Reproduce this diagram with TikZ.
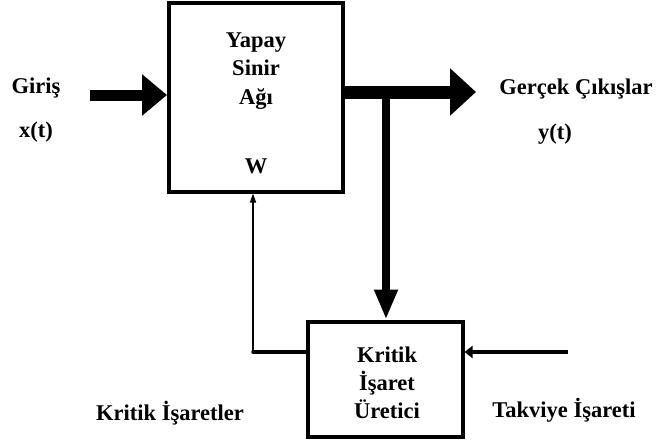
\documentclass[tikz,border=0pt]{standalone}
\usepackage{fontspec}
\setmainfont{Liberation Serif}
\usetikzlibrary{arrows.meta}
\begin{document}
\begin{tikzpicture}[x=1pt,y=-1pt,
  block/.style={draw,line width=4pt,inner sep=0pt},
  lbl/.style={font=\fontsize{22.5}{24}\selectfont\bfseries,inner sep=0pt,anchor=base},
  bigarrow/.style={line width=11pt,-{Triangle[length=25pt,width=40pt]}},
  outarrow/.style={line width=13pt,-{Triangle[length=26pt,width=46pt]}},
  downarrow/.style={line width=8pt,-{Triangle[length=30pt,width=22pt]}},
  fbline/.style={line width=1.5pt},
]
\useasboundingbox (0,0) rectangle (661,444);
% blocks
\node[block,minimum width=174pt,minimum height=188pt] (ann) at (256,97.5) {};
\node[block,minimum width=155pt,minimum height=115pt] (crit) at (385,379) {};
% text inside the network block
\node[lbl] (t1) at (256,48) {Yapay};
\node[lbl] (t2) at (256,76) {Sinir};
\node[lbl] (t3) at (256,104) {Ağı};
\node[lbl] (tw) at (256,173) {W};
% text inside the critic block
\node[lbl] (c1) at (387,362) {Kritik};
\node[lbl] (c2) at (387,390) {İşaret};
\node[lbl] (c3) at (387,418) {Üretici};
% outer labels
\node[lbl] (gi) at (36,93) {Giriş};
\node[lbl] (xt) at (36,137) {x(t)};
\node[lbl] (go) at (576,95) {Gerçek Çıkışlar};
\node[lbl] (yt) at (555,139) {y(t)};
\node[lbl] (ks) at (170,420) {Kritik İşaretler};
\node[lbl] (ti) at (564,417) {Takviye İşareti};
% connectors
\coordinate (in) at (90,95);
\coordinate (out) at (476,92);
\coordinate (tap) at (386,92);
\coordinate (fb) at (253,352);
\coordinate (rin) at (568,352);
\draw[bigarrow] (in) -- (in -| ann.west);
\draw[line width=13pt] (ann.east |- out) -- (tap);
\draw[outarrow] (tap) -- (out);
\draw[downarrow] (tap) -- (crit.north -| tap);
\draw[line width=3.5pt,line cap=round] (crit.west |- fb) -- (fb);
\draw[fbline,-{Triangle[length=9pt,width=6pt]}] (fb) -- (ann.south -| fb);
\draw[line width=4pt,-{Triangle[length=8pt,width=12pt]}] (rin) -- (crit.east |- rin);
\end{tikzpicture}
\end{document}
